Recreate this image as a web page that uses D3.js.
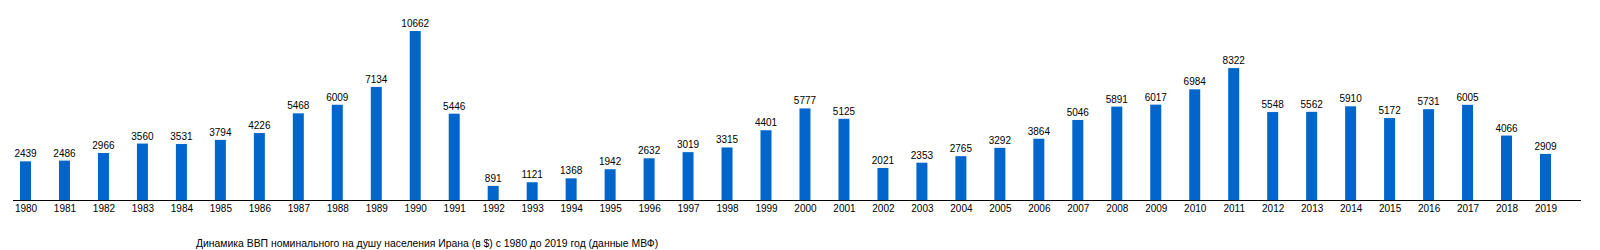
<!DOCTYPE html>
<html>
<head>
<meta charset="utf-8">
<script src="https://cdn.jsdelivr.net/npm/d3@7"></script>
<style>
  body { margin: 0; background: #fff; }
  svg text { font-family: "Liberation Sans", Arial, sans-serif; font-size: 10px; fill: #000; }
</style>
</head>
<body>
<div id="chart"></div>
<script>
// GDP per capita, Iran, 1980-2019 (IMF)
var years = d3.range(1980, 2020).map(String);
var gdp = [2439, 2486, 2966, 3560, 3531, 3794, 4226, 5468, 6009, 7134,
           10662, 5446, 891, 1121, 1368, 1942, 2632, 3019, 3315, 4401,
           5777, 5125, 2021, 2353, 2765, 3292, 3864, 5046, 5891, 6017,
           6984, 8322, 5548, 5562, 5910, 5172, 5731, 6005, 4066, 2909];
var caption = "Динамика ВВП номинального на душу населения Ирана (в $) с 1980 до 2019 год (данные МВФ)";

var width = 1600, height = 250;
var baseY = 200;

var svg = d3.select("#chart").append("svg")
    .attr("width", width)
    .attr("height", height);

var x = d3.scalePoint()
    .domain(years)
    .range([25.5, 1545.5]);

var y = d3.scaleLinear()
    .domain([0, d3.max(gdp)])
    .range([baseY, 31]);

var barW = 11;

// bars
svg.selectAll("rect.bar")
    .data(gdp)
    .enter()
    .append("rect")
    .attr("class", "bar")
    .attr("x", function(d, i) { return x(years[i]) - barW / 2; })
    .attr("y", function(d) { return y(d); })
    .attr("width", barW)
    .attr("height", function(d) { return baseY - y(d); })
    .attr("fill", "#0066cc");

// value labels
svg.selectAll("text.val")
    .data(gdp)
    .enter()
    .append("text")
    .attr("class", "val")
    .attr("x", function(d, i) { return x(years[i]); })
    .attr("y", function(d) { return y(d) - 4; })
    .attr("text-anchor", "middle")
    .text(function(d) { return d; });

// x axis
var xAxis = svg.append("g")
    .attr("transform", "translate(0," + baseY + ")")
    .call(d3.axisBottom(x).tickSize(0).tickPadding(5));
xAxis.select(".domain").remove();
xAxis.selectAll("text").style("font-size", "10px");

svg.append("line")
    .attr("x1", 13).attr("x2", 1581)
    .attr("y1", baseY + 0.5).attr("y2", baseY + 0.5)
    .attr("stroke", "#000")
    .attr("stroke-width", 1);

svg.append("text")
    .attr("x", 196)
    .attr("y", 247)
    .style("font-size", "10.4px")
    .text(caption);
</script>
</body>
</html>
